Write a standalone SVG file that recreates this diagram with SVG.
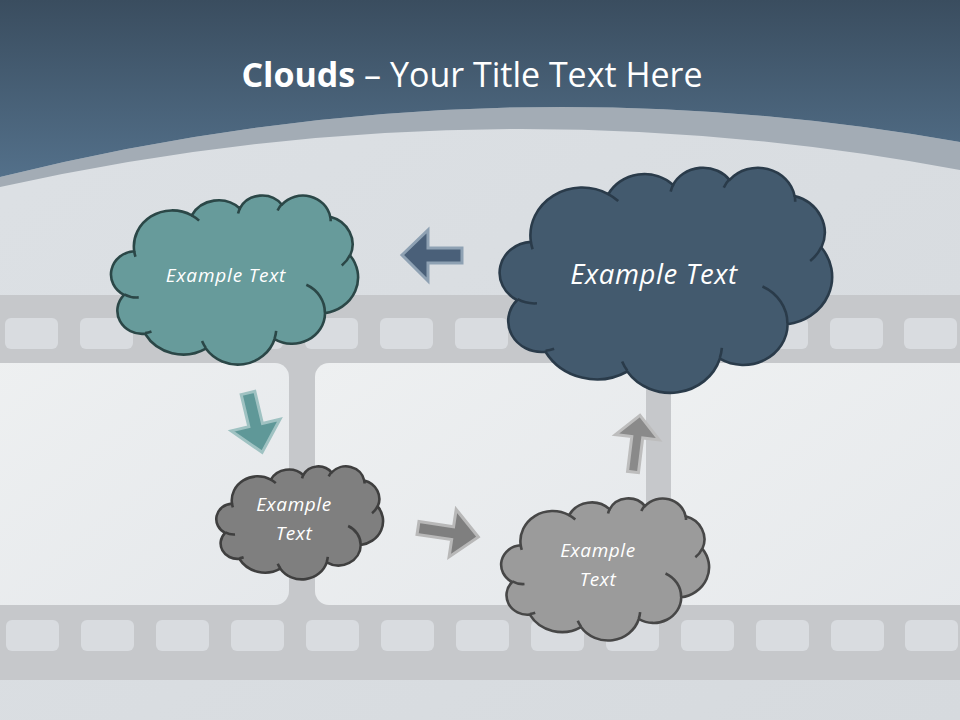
<svg xmlns="http://www.w3.org/2000/svg" xmlns:xlink="http://www.w3.org/1999/xlink" width="960" height="720" viewBox="0 0 960 720">
  <defs>
    <linearGradient id="hdr" x1="0" y1="0" x2="0" y2="1">
      <stop offset="0" stop-color="#3a4d5f"/>
      <stop offset="1" stop-color="#53708a"/>
    </linearGradient>
    <linearGradient id="bg" x1="0" y1="0" x2="1" y2="1">
      <stop offset="0" stop-color="#dde1e5"/>
      <stop offset="1" stop-color="#d6dade"/>
    </linearGradient>
    <linearGradient id="frame" x1="0" y1="0" x2="1" y2="1">
      <stop offset="0" stop-color="#eef0f1"/>
      <stop offset="1" stop-color="#e5e8eb"/>
    </linearGradient>
    <path id="cloud" d="M9.03,33.26 A15.63,21.27 0 0 1 32.42,12.04 A12.35,16.82 0 0 1 51.98,7.94 A10.10,13.76 0 0 1 69.06,5.74 A11.24,15.27 0 0 1 88.70,12.91 A12.35,16.84 0 0 1 96.80,35.79 A15.68,21.34 0 0 1 86.59,69.91 A13.39,18.21 0 0 1 66.10,85.21 A15.63,21.33 0 0 1 38.15,90.89 A17.87,24.41 0 0 1 13.44,82.10 A10.09,13.70 0 0 1 4.90,59.13 A10.06,13.76 0 0 1 9.03,33.26 Z" vector-effect="non-scaling-stroke"/>
    <path id="cloudLines" fill="none" vector-effect="non-scaling-stroke" d="M10.86,60.59 A10.06,13.76 0 0 1 5.00,58.75 M16.04,80.78 A10.09,13.70 0 0 1 13.47,81.67 M38.14,90.49 A15.63,21.33 0 0 1 36.60,86.46 M66.73,80.44 A15.63,21.33 0 0 1 66.11,84.86 M79.00,53.13 A13.39,18.21 0 0 1 86.53,69.65 M96.75,35.54 A12.35,16.84 0 0 1 93.40,41.74 M88.71,12.56 A11.24,15.27 0 0 1 88.89,15.48 M67.31,9.15 A11.24,15.27 0 0 1 69.03,5.41 M51.25,10.93 A10.10,13.76 0 0 1 52.08,7.71 M32.41,12.02 A15.63,21.27 0 0 1 35.41,15.14 M9.55,36.55 A15.63,21.27 0 0 1 9.03,33.27"/>
  </defs>
  <style>
    .hole { fill: #d9dce0; }
    .strip { fill: #c6c8cb; }
    .frm { fill: url(#frame); }
    .ctext { font-family: "Open Sans", "Liberation Sans", sans-serif; font-style: italic; fill: #ffffff; text-anchor: middle; }
    .cl { stroke-width: 2.6; stroke-linejoin: round; }
    .arrow { stroke-width: 3; stroke-linejoin: miter; }
  </style>

  <!-- background -->
  <rect x="0" y="0" width="960" height="720" fill="url(#bg)"/>

  <!-- film strip -->
  <g id="filmstrip">
    <rect class="strip" x="0" y="295" width="960" height="385"/>
    <rect class="frm" x="-20" y="363" width="309" height="242" rx="14"/>
    <rect class="frm" x="315" y="363" width="331" height="242" rx="14"/>
    <rect class="frm" x="671" y="363" width="320" height="242" rx="14"/>
    <g id="holes-top">
      <rect class="hole" x="5" y="318" width="53" height="31" rx="6"/>
      <rect class="hole" x="80" y="318" width="53" height="31" rx="6"/>
      <rect class="hole" x="155" y="318" width="53" height="31" rx="6"/>
      <rect class="hole" x="230" y="318" width="53" height="31" rx="6"/>
      <rect class="hole" x="305" y="318" width="53" height="31" rx="6"/>
      <rect class="hole" x="380" y="318" width="53" height="31" rx="6"/>
      <rect class="hole" x="455" y="318" width="53" height="31" rx="6"/>
      <rect class="hole" x="530" y="318" width="53" height="31" rx="6"/>
      <rect class="hole" x="605" y="318" width="53" height="31" rx="6"/>
      <rect class="hole" x="680" y="318" width="53" height="31" rx="6"/>
      <rect class="hole" x="755" y="318" width="53" height="31" rx="6"/>
      <rect class="hole" x="830" y="318" width="53" height="31" rx="6"/>
      <rect class="hole" x="904" y="318" width="53" height="31" rx="6"/>
    </g>
    <g id="holes-bottom">
      <rect class="hole" x="6" y="620" width="53" height="31" rx="6"/>
      <rect class="hole" x="81" y="620" width="53" height="31" rx="6"/>
      <rect class="hole" x="156" y="620" width="53" height="31" rx="6"/>
      <rect class="hole" x="231" y="620" width="53" height="31" rx="6"/>
      <rect class="hole" x="306" y="620" width="53" height="31" rx="6"/>
      <rect class="hole" x="381" y="620" width="53" height="31" rx="6"/>
      <rect class="hole" x="456" y="620" width="53" height="31" rx="6"/>
      <rect class="hole" x="531" y="620" width="53" height="31" rx="6"/>
      <rect class="hole" x="606" y="620" width="53" height="31" rx="6"/>
      <rect class="hole" x="681" y="620" width="53" height="31" rx="6"/>
      <rect class="hole" x="756" y="620" width="53" height="31" rx="6"/>
      <rect class="hole" x="831" y="620" width="53" height="31" rx="6"/>
      <rect class="hole" x="905" y="620" width="53" height="31" rx="6"/>
    </g>
  </g>

  <!-- header -->
  <g id="header">
    <path d="M0,187 Q480,80 960,170 L960,142 Q480,57.3 0,177 Z" fill="#a3acb5"/>
    <path d="M0,0 L960,0 L960,142 Q480,57.3 0,177 Z" fill="url(#hdr)"/>
    <text x="472" y="87" font-family="'Open Sans', 'Liberation Sans', sans-serif" font-size="34" fill="#ffffff" text-anchor="middle"><tspan font-weight="bold">Clouds</tspan> – Your Title Text Here</text>
  </g>

  <!-- connectors (block arrows) -->
  <g id="connectors">
    <path class="arrow" d="M402,255 L428,230 L428,248 L462,248 L462,263 L428,263 L428,281 Z" fill="#4a6079" stroke="#8ea1b3"/>
    <path class="arrow" transform="translate(248,393) rotate(-13.4)" d="M-7,0 L7,0 L7,33 L25,33 L0,61 L-25,33 L-7,33 Z" fill="#5f9898" stroke="#9fc2c2"/>
    <path class="arrow" transform="translate(418,528) rotate(8.5)" d="M0,-6.5 L35,-6.5 L35,-24 L61,0 L35,24 L35,6.5 L0,6.5 Z" fill="#7f7f7f" stroke="#b8b8b8"/>
    <path class="arrow" transform="translate(633,472) rotate(7)" d="M-5.5,0 L-5.5,-35 L-22,-35 L0,-57 L22,-35 L5.5,-35 L5.5,0 Z" fill="#8a8a8a" stroke="#bdbdbd"/>
  </g>

  <!-- clouds -->
  <g id="cloud-teal">
    <g transform="translate(112,195) scale(2.46,1.69)">
      <use xlink:href="#cloud" href="#cloud" class="cl" fill="#679b9b" stroke="#2b4747"/>
      <use xlink:href="#cloudLines" href="#cloudLines" class="cl" stroke="#2b4747"/>
    </g>
    <text class="ctext" x="226" y="282" font-size="19" letter-spacing="0.8">Example Text</text>
  </g>

  <g id="cloud-dark">
    <g transform="translate(501,167) scale(3.31,2.25)">
      <use xlink:href="#cloud" href="#cloud" class="cl" fill="#435a6e" stroke="#2a3b4a"/>
      <use xlink:href="#cloudLines" href="#cloudLines" class="cl" stroke="#2a3b4a"/>
    </g>
    <text class="ctext" x="654" y="284" font-size="27.5" letter-spacing="0.6">Example Text</text>
  </g>

  <g id="cloud-gray-dark">
    <g transform="translate(217,466) scale(1.66,1.13)">
      <use xlink:href="#cloud" href="#cloud" class="cl" fill="#7f7f7f" stroke="#3f3f3f"/>
      <use xlink:href="#cloudLines" href="#cloudLines" class="cl" stroke="#3f3f3f"/>
    </g>
    <text class="ctext" x="294" y="511" font-size="19" letter-spacing="0.6">Example</text>
    <text class="ctext" x="294" y="540" font-size="19" letter-spacing="0.6">Text</text>
  </g>

  <g id="cloud-gray-light">
    <g transform="translate(502,498) scale(2.07,1.42)">
      <use xlink:href="#cloud" href="#cloud" class="cl" fill="#9b9b9b" stroke="#474747"/>
      <use xlink:href="#cloudLines" href="#cloudLines" class="cl" stroke="#474747"/>
    </g>
    <text class="ctext" x="598" y="557" font-size="19" letter-spacing="0.6">Example</text>
    <text class="ctext" x="598" y="586" font-size="19" letter-spacing="0.6">Text</text>
  </g>
</svg>
